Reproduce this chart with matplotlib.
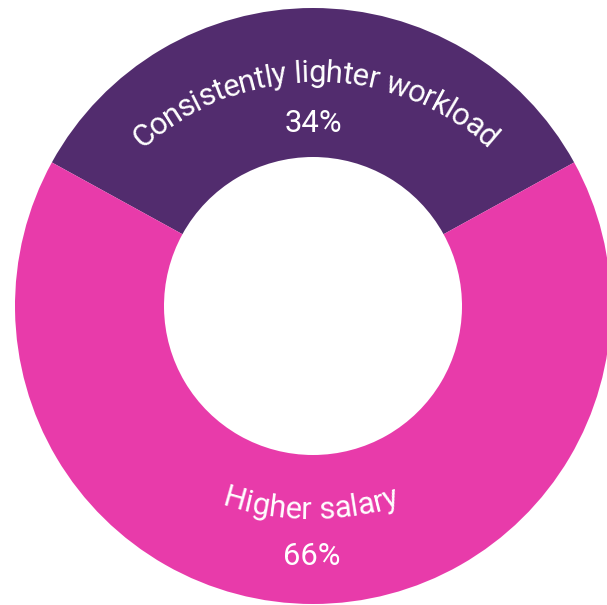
import numpy as np
import matplotlib
matplotlib.use("Agg")
import matplotlib.pyplot as plt
from matplotlib.font_manager import FontProperties

# data
labels = ["Consistently lighter workload", "Higher salary"]
values = [34, 66]
pct_labels = ["34%", "66%"]
colors = ["#522c6e", "#e83baa"]

W, H = 607, 605
fig = plt.figure(figsize=(W / 100, H / 100), dpi=100)
ax = fig.add_axes([0, 0, 1, 1])

# donut, in pixel coordinates (y up)
cx, cy = 313, H - 306
ax.pie(values, colors=colors, startangle=90 - values[0] * 3.6 / 2, counterclock=True,
       center=(cx, cy), radius=298, wedgeprops=dict(width=149, linewidth=0))
ax.set_xlim(0, W)
ax.set_ylim(0, H)
ax.set_aspect("equal")
ax.axis("off")

fp = FontProperties(family="Roboto", size=22.3)
renderer = fig.canvas.get_renderer()


def adv(s):
    # advance width in pixels, sentinel keeps trailing spaces
    w1 = renderer.get_text_width_height_descent(s + "H", fp, ismath=False)[0]
    w0 = renderer.get_text_width_height_descent("H", fp, ismath=False)[0]
    return w1 - w0


def arc_text(s, acx, acy, r, top=True, spacing=1.0):
    total = adv(s)
    for i, ch in enumerate(s):
        if ch == " ":
            continue
        mid = (adv(s[:i]) + adv(s[:i + 1])) / 2 - total / 2
        th = mid * spacing / r
        if top:
            x = acx + r * np.sin(th)
            y = acy + r * np.cos(th)
            rot = -np.degrees(th)
        else:
            x = acx + r * np.sin(th)
            y = acy - r * np.cos(th)
            rot = np.degrees(th)
        ax.text(x, y, ch, fontproperties=fp, color="white", ha="center", va="baseline",
                rotation=rot, rotation_mode="anchor")


# curved category labels
arc_text(labels[0], 315, H - 338, 256, top=True, spacing=0.95)
arc_text(labels[1], 311, H - 231, 288, top=False)

# percentages
ax.text(313, H - 132, pct_labels[0], fontproperties=fp, color="white", ha="center", va="baseline")
ax.text(312, H - 565, pct_labels[1], fontproperties=fp, color="white", ha="center", va="baseline")

fig.savefig("out.png", dpi=100)
